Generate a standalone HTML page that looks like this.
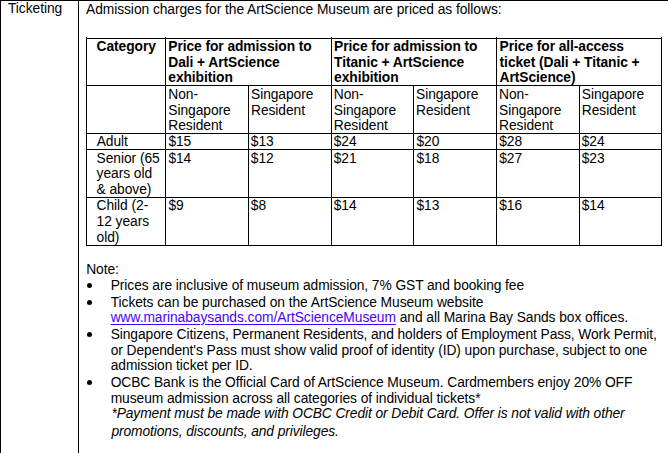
<!DOCTYPE html>
<html><head><meta charset="utf-8"><style>
html,body{margin:0;padding:0;background:#fff;}
body{width:668px;height:453px;position:relative;overflow:hidden;font-family:"Liberation Sans",Arial,sans-serif;color:#000;}
.t{position:absolute;white-space:pre;line-height:16px;font-size:13.8px;letter-spacing:-0.06px;}
.b{font-weight:bold;font-size:13.8px;letter-spacing:-0.07px;}
.i{font-style:italic;letter-spacing:-0.09px;}
.lk{color:#4800ff;text-decoration:underline;text-underline-offset:2px;}
.h{position:absolute;height:1px;background:#000;}
.v{position:absolute;width:1px;background:#000;}
.d{position:absolute;width:5px;height:5px;border-radius:50%;background:#000;}
</style></head><body>

<div class="h" style="left:0px;top:0px;width:668px"></div>
<div class="h" style="left:86px;top:38px;width:576px"></div>
<div class="h" style="left:86px;top:85px;width:576px"></div>
<div class="h" style="left:165px;top:133px;width:497px"></div>
<div class="h" style="left:86px;top:133px;width:576px"></div>
<div class="h" style="left:86px;top:149px;width:576px"></div>
<div class="h" style="left:86px;top:197px;width:576px"></div>
<div class="h" style="left:86px;top:245px;width:576px"></div>
<div class="v" style="left:0px;top:0px;height:453px"></div>
<div class="v" style="left:78px;top:0px;height:453px"></div>
<div class="v" style="left:86px;top:37px;height:209px"></div>
<div class="v" style="left:165px;top:37px;height:209px"></div>
<div class="v" style="left:248px;top:85px;height:161px"></div>
<div class="v" style="left:331px;top:37px;height:209px"></div>
<div class="v" style="left:413px;top:85px;height:161px"></div>
<div class="v" style="left:496px;top:37px;height:209px"></div>
<div class="v" style="left:579px;top:85px;height:161px"></div>
<div class="v" style="left:661px;top:37px;height:209px"></div>
<div class="d" style="left:87.20px;top:282.90px"></div>
<div class="d" style="left:87.20px;top:299.50px"></div>
<div class="d" style="left:87.20px;top:332.00px"></div>
<div class="d" style="left:87.20px;top:379.70px"></div>
<div class="t " style="left:8px;top:1.00px;">Ticketing</div>
<div class="t " style="left:86px;top:2.00px;">Admission charges for the ArtScience Museum are priced as follows:</div>
<div class="t b" style="left:96.6px;top:39.00px;">Category</div>
<div class="t b" style="left:168.3px;top:39.00px;">Price for admission to</div>
<div class="t b" style="left:168.3px;top:54.50px;">Dali + ArtScience</div>
<div class="t b" style="left:168.3px;top:70.00px;">exhibition</div>
<div class="t b" style="left:334.1px;top:39.00px;">Price for admission to</div>
<div class="t b" style="left:334.1px;top:54.50px;">Titanic + ArtScience</div>
<div class="t b" style="left:334.1px;top:70.00px;">exhibition</div>
<div class="t b" style="left:499.6px;top:39.00px;">Price for all-access</div>
<div class="t b" style="left:499.6px;top:54.50px;">ticket (Dali + Titanic +</div>
<div class="t b" style="left:499.6px;top:70.00px;">ArtScience)</div>
<div class="t " style="left:168.3px;top:87.00px;">Non-</div>
<div class="t " style="left:168.3px;top:102.50px;">Singapore</div>
<div class="t " style="left:168.3px;top:118.00px;">Resident</div>
<div class="t " style="left:333.8px;top:87.00px;">Non-</div>
<div class="t " style="left:333.8px;top:102.50px;">Singapore</div>
<div class="t " style="left:333.8px;top:118.00px;">Resident</div>
<div class="t " style="left:499.1px;top:87.00px;">Non-</div>
<div class="t " style="left:499.1px;top:102.50px;">Singapore</div>
<div class="t " style="left:499.1px;top:118.00px;">Resident</div>
<div class="t " style="left:251px;top:87.00px;">Singapore</div>
<div class="t " style="left:251px;top:102.50px;">Resident</div>
<div class="t " style="left:416px;top:87.00px;">Singapore</div>
<div class="t " style="left:416px;top:102.50px;">Resident</div>
<div class="t " style="left:581.8px;top:87.00px;">Singapore</div>
<div class="t " style="left:581.8px;top:102.50px;">Resident</div>
<div class="t " style="left:96.7px;top:134.00px;">Adult</div>
<div class="t " style="left:96.6px;top:151.00px;">Senior (65</div>
<div class="t " style="left:96.6px;top:166.00px;">years old</div>
<div class="t " style="left:96.6px;top:181.50px;">&amp; above)</div>
<div class="t " style="left:96.6px;top:198.00px;">Child (2-</div>
<div class="t " style="left:96.6px;top:213.70px;">12 years</div>
<div class="t " style="left:96.6px;top:229.60px;">old)</div>
<div class="t " style="left:168.4px;top:134.00px;">$15</div>
<div class="t " style="left:250.8px;top:134.00px;">$13</div>
<div class="t " style="left:333.7px;top:134.00px;">$24</div>
<div class="t " style="left:416.5px;top:134.00px;">$20</div>
<div class="t " style="left:499.2px;top:134.00px;">$28</div>
<div class="t " style="left:581.7px;top:134.00px;">$24</div>
<div class="t " style="left:168.4px;top:151.00px;">$14</div>
<div class="t " style="left:250.8px;top:151.00px;">$12</div>
<div class="t " style="left:333.7px;top:151.00px;">$21</div>
<div class="t " style="left:416.5px;top:151.00px;">$18</div>
<div class="t " style="left:499.2px;top:151.00px;">$27</div>
<div class="t " style="left:581.7px;top:151.00px;">$23</div>
<div class="t " style="left:168.4px;top:198.00px;">$9</div>
<div class="t " style="left:250.8px;top:198.00px;">$8</div>
<div class="t " style="left:333.7px;top:198.00px;">$14</div>
<div class="t " style="left:416.5px;top:198.00px;">$13</div>
<div class="t " style="left:499.2px;top:198.00px;">$16</div>
<div class="t " style="left:581.7px;top:198.00px;">$14</div>
<div class="t " style="left:86.2px;top:262.00px;">Note:</div>
<div class="t " style="left:110.7px;top:278.00px;letter-spacing:-0.08px">Prices are inclusive of museum admission, 7% GST and booking fee</div>
<div class="t " style="left:110.7px;top:294.50px;">Tickets can be purchased on the ArtScience Museum website</div>
<div class="t " style="left:110.7px;top:309.50px;"><span class="lk">www.marinabaysands.com/ArtScienceMuseum</span> and all Marina Bay Sands box offices.</div>
<div class="t " style="left:110.7px;top:327.00px;letter-spacing:-0.086px">Singapore Citizens, Permanent Residents, and holders of Employment Pass, Work Permit,</div>
<div class="t " style="left:110.7px;top:343.00px;letter-spacing:-0.077px">or Dependent's Pass must show valid proof of identity (ID) upon purchase, subject to one</div>
<div class="t " style="left:110.7px;top:358.00px;">admission ticket per ID.</div>
<div class="t " style="left:110.7px;top:375.00px;letter-spacing:-0.083px">OCBC Bank is the Official Card of ArtScience Museum. Cardmembers enjoy 20% OFF</div>
<div class="t " style="left:110.7px;top:390.50px;">museum admission across all categories of individual tickets*</div>
<div class="t i" style="left:111.4px;top:406.00px;">*Payment must be made with OCBC Credit or Debit Card. Offer is not valid with other</div>
<div class="t i" style="left:111.4px;top:424.00px;">promotions, discounts, and privileges.</div>
</body></html>
